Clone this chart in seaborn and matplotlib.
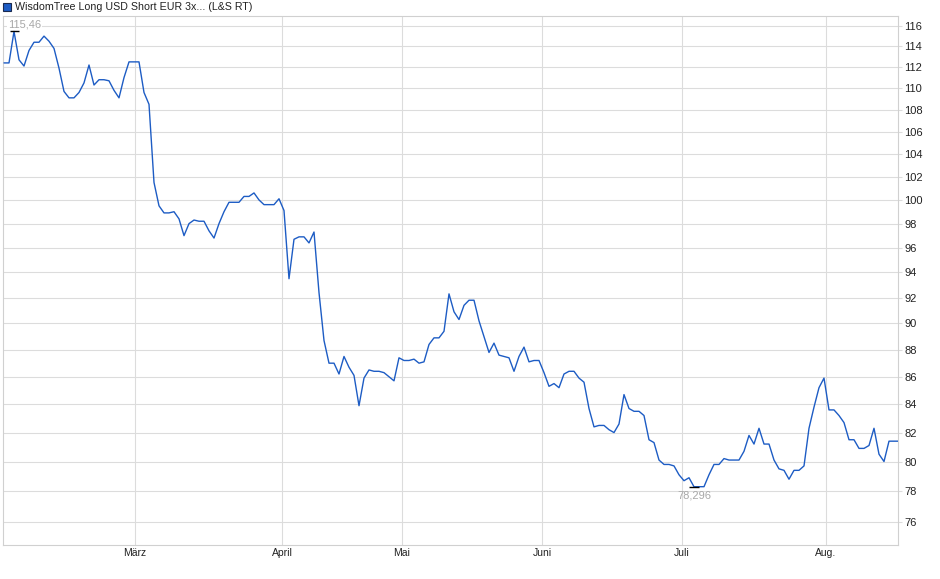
import numpy as np
import pandas as pd
import matplotlib
matplotlib.use("Agg")
import matplotlib.pyplot as plt
from matplotlib.ticker import FixedLocator, NullLocator, FixedFormatter
import seaborn as sns

# ---- data ----
series_name = "WisdomTree Long USD Short EUR 3x... (L&S RT)"
prices = [
    112.4, 112.4, 115.46, 112.7, 112.1, 113.6, 114.4, 114.4, 115.0, 114.5,
    113.8, 111.9, 109.7, 109.1, 109.1, 109.6, 110.5, 112.2, 110.3, 110.8,
    110.8, 110.7, 109.8, 109.1, 111.0, 112.5, 112.5, 112.5, 109.6, 108.5,
    101.5, 99.5, 98.9, 98.9, 99.0, 98.4, 97.0, 98.0, 98.3, 98.2,
    98.2, 97.4, 96.8, 98.0, 99.0, 99.8, 99.8, 99.8, 100.3, 100.3,
    100.6, 100.0, 99.6, 99.6, 99.6, 100.1, 99.1, 93.5, 96.7, 96.9,
    96.9, 96.4, 97.3, 92.4, 88.7, 87.0, 87.0, 86.2, 87.5, 86.7,
    86.1, 83.9, 85.9, 86.5, 86.4, 86.4, 86.3, 86.0, 85.7, 87.4,
    87.2, 87.2, 87.3, 87.0, 87.1, 88.4, 88.9, 88.9, 89.4, 92.3,
    90.9, 90.3, 91.4, 91.8, 91.8, 90.2, 89.0, 87.8, 88.5, 87.6,
    87.5, 87.4, 86.4, 87.5, 88.2, 87.1, 87.2, 87.2, 86.3, 85.3,
    85.5, 85.2, 86.2, 86.4, 86.4, 85.9, 85.6, 83.7, 82.4, 82.5,
    82.5, 82.2, 82.0, 82.6, 84.7, 83.7, 83.5, 83.5, 83.2, 81.5,
    81.3, 80.1, 79.8, 79.8, 79.7, 79.1, 78.7, 78.9, 78.296, 78.3,
    78.3, 79.1, 79.8, 79.8, 80.2, 80.1, 80.1, 80.1, 80.7, 81.8,
    81.2, 82.3, 81.2, 81.2, 80.1, 79.5, 79.4, 78.8, 79.4, 79.4,
    79.7, 82.3, 83.8, 85.2, 85.9, 83.6, 83.6, 83.2, 82.7, 81.5,
    81.5, 80.9, 80.9, 81.1, 82.3, 80.5, 80.0, 81.4, 81.4, 81.4,
]
month_labels = ["März", "April", "Mai", "Juni", "Juli", "Aug."]
month_pos = [26.2, 55.6, 79.6, 107.6, 135.6, 164.4]
y_ticks = list(range(76, 117, 2))

df = pd.DataFrame({"idx": np.arange(len(prices)), "price": prices})

# ---- figure ----
sns.set_style("white")
plt.rcParams["font.family"] = ["Liberation Sans", "DejaVu Sans"]

fig = plt.figure(figsize=(9.4, 5.79), dpi=100)
ax = fig.add_axes([3 / 940, 1 - 545 / 579, 895 / 940, (545 - 15.5) / 579])

line_color = "#1d5cc4"
grid_color = "#dcdcdc"
sns.lineplot(data=df, x="idx", y="price", ax=ax, color=line_color,
             linewidth=1.0, zorder=3)

ax.set_yscale("log")
ax.set_ylim(74.5, 117.04)
ax.set_xlim(-0.2, 178.8)

ax.yaxis.set_major_locator(FixedLocator(y_ticks))
ax.yaxis.set_major_formatter(FixedFormatter([str(t) for t in y_ticks]))
ax.yaxis.set_minor_locator(NullLocator())
ax.yaxis.tick_right()
ax.xaxis.set_major_locator(FixedLocator(month_pos))
ax.xaxis.set_major_formatter(FixedFormatter(month_labels))
ax.xaxis.set_minor_locator(NullLocator())

ax.grid(True, color=grid_color, linewidth=0.8, zorder=0)
ax.tick_params(axis="y", which="major", length=3, width=0.8, color=grid_color,
               labelsize=8, labelcolor="#222222", pad=1.5, right=True, left=False)
ax.tick_params(axis="x", which="major", length=0, labelsize=7.5,
               labelcolor="#222222", pad=2.5)
for s in ax.spines.values():
    s.set_color("#d0d0d0")
    s.set_linewidth(0.8)
ax.set_xlabel("")
ax.set_ylabel("")

# max / min annotations
arr = np.array(prices)
imax, imin = int(arr.argmax()), int(arr.argmin())
ax.hlines(arr[imax], imax - 0.9, imax + 0.9, color="black", linewidth=1.0, zorder=4)
ax.hlines(arr[imin], imin - 1.0, imin + 1.0, color="black", linewidth=1.0, zorder=4)
ax.annotate(f"{arr[imax]:.2f}".replace(".", ","), xy=(imax, arr[imax]),
            xytext=(-4.5, 1.5), textcoords="offset points", ha="left", va="bottom",
            fontsize=8, color="#a8a8a8",
            bbox=dict(boxstyle="square,pad=0.1", fc="white", ec="none"), zorder=5)
ax.annotate(f"{arr[imin]:.3f}".replace(".", ","), xy=(imin, arr[imin]),
            xytext=(0, -3), textcoords="offset points", ha="center", va="top",
            fontsize=8, color="#a8a8a8", zorder=5)

# legend-like title
fig.patches.append(plt.Rectangle((3 / 940, 1 - 11 / 579), 8 / 940, 8 / 579,
                                 transform=fig.transFigure, facecolor="#1d5cc4",
                                 edgecolor="#1a2a50", linewidth=0.8))
fig.text(15 / 940, 1 - 6.5 / 579, series_name, ha="left", va="center",
         fontsize=7.7, color="#222222")

fig.savefig("out.png", dpi=100, facecolor="white")
